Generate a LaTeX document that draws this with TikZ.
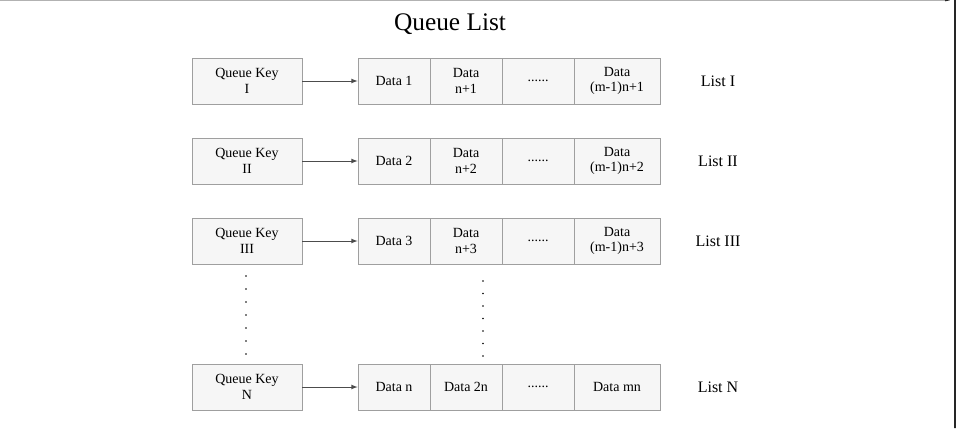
\documentclass[tikz,border=0pt]{standalone}
\usepackage{fontspec}
\setmainfont{Liberation Serif}
\begin{document}
\begin{tikzpicture}[x=0.75pt,y=-0.75pt,
  box/.style={draw=gray!75,fill=gray!7,line width=0.6pt,inner sep=0pt,align=center,font=\fontsize{10.5}{11.5}\selectfont},
  lbl/.style={font=\fontsize{12}{14}\selectfont},
  arr/.style={draw=gray!60!black,line width=0.6pt,-latex}]
\useasboundingbox (0,0) rectangle (963,428);
\draw[gray!60,line width=0.8pt] (0,0.5) -- (945,0.5);
\draw[gray!30!black,line width=1.2pt] (945,0.5) arc[start angle=90,end angle=0,radius=10] -- (955,428);
\node[font=\fontsize{19}{22}\selectfont] (title) at (450,24) {Queue List};
\foreach \r/\y/\k/\a/\b/\c/\l in {1/81/I/Data 1/Data\\n+1/Data\\(m-1)n+1/List I,
  2/161/II/Data 2/Data\\n+2/Data\\(m-1)n+2/List II,
  3/241/III/Data 3/Data\\n+3/Data\\(m-1)n+3/List III,
  4/387/N/Data n/Data 2n/Data mn/List N}{
  \node[box,minimum width=110*0.75pt,minimum height=46*0.75pt] (k\r) at (247,\y) {Queue Key\\\k};
  \node[box,minimum width=72*0.75pt,minimum height=46*0.75pt] (a\r) at (394,\y) {\a};
  \node[box,minimum width=72*0.75pt,minimum height=46*0.75pt] (b\r) at (466,\y) {\b};
  \node[box,minimum width=72*0.75pt,minimum height=46*0.75pt] (d\r) at (538,\y) {......};
  \node[box,minimum width=86*0.75pt,minimum height=46*0.75pt] (c\r) at (617,\y) {\c};
  \node[lbl] (l\r) at (718,\y) {\l};
  \draw[arr] (k\r) -- (a\r);
}
\foreach \i in {0,...,6}{
  \fill (246,{276+\i*13}) circle (0.9);
  \fill (483,{281+\i*12.5}) circle (0.9);
}
\end{tikzpicture}
\end{document}
